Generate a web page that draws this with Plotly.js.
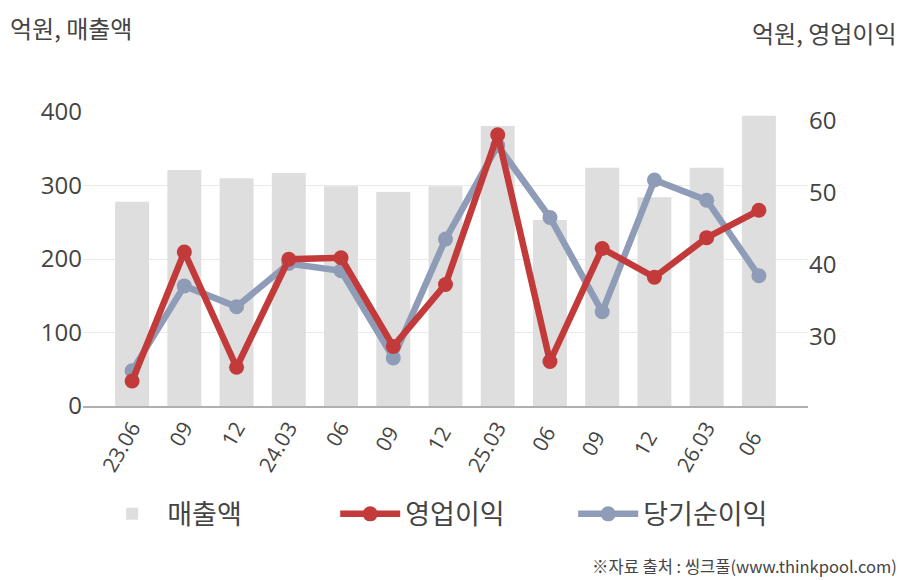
<!DOCTYPE html>
<html>
<head>
<meta charset="utf-8">
<script src="https://cdn.plot.ly/plotly-3.0.1.min.js"></script>
<style>
  html, body { margin: 0; padding: 0; background: #fff; }
  #chart { width: 908px; height: 580px; }
</style>
</head>
<body>
<div id="chart"></div>
<script>
const periods = ["23.06", "09", "12", "24.03", "06", "09 ", "12 ", "25.03", "06 ", "09  ", "12  ", "26.03", "06  "];
const sales = [278, 321, 310, 317, 299, 291, 299, 381, 253, 324, 284, 324, 395];
const opProfit = [23.9, 41.8, 25.8, 40.8, 41.0, 28.7, 37.3, 58.1, 26.6, 42.3, 38.3, 43.8, 47.6];
const netProfit = [25.3, 37.1, 34.2, 40.2, 39.2, 27.1, 43.6, 56.6, 46.6, 33.5, 51.8, 49.0, 38.5];

const textColor = "#444444";
const krFont = "Noto Sans CJK KR, Noto Sans, sans-serif";
const numFont = "Open Sans, Noto Sans, sans-serif";

// gray line is drawn before the red one so red stays on top
const traces = [
  {
    x: periods,
    y: sales,
    name: "매출액",
    type: "bar",
    width: 0.65,
    marker: { color: "#dedede" },
    legendrank: 1,
    yaxis: "y"
  },
  {
    x: periods,
    y: netProfit,
    name: "당기순이익",
    type: "scatter",
    mode: "lines+markers",
    line: { color: "#8f9cb8", width: 6.5 },
    marker: { color: "#8f9cb8", size: 15 },
    legendrank: 3,
    yaxis: "y2"
  },
  {
    x: periods,
    y: opProfit,
    name: "영업이익",
    type: "scatter",
    mode: "lines+markers",
    line: { color: "#c23a3a", width: 6.5 },
    marker: { color: "#c23a3a", size: 15 },
    legendrank: 2,
    yaxis: "y2"
  }
];

const layout = {
  width: 908,
  height: 580,
  margin: { l: 83, r: 100, t: 112, b: 174 },
  paper_bgcolor: "#ffffff",
  plot_bgcolor: "#ffffff",
  showlegend: true,
  legend: {
    orientation: "h",
    x: 0.512, xanchor: "center",
    y: -0.285, yanchor: "top",
    font: { family: krFont, size: 27, color: textColor },
    itemwidth: 60,
    entrywidth: 163
  },
  xaxis: {
    type: "category",
    range: [-0.94, 12.94],
    showgrid: false,
    showline: true,
    linecolor: "#b0b0b0",
    linewidth: 1.5,
    ticks: "",
    tickangle: -60,
    tickfont: { family: numFont, size: 21, color: textColor },
    fixedrange: true
  },
  yaxis: {
    range: [0, 400],
    dtick: 100,
    showgrid: true,
    gridcolor: "#e9e9e9",
    gridwidth: 1,
    zeroline: false,
    showline: false,
    ticks: "",
    tickfont: { family: numFont, size: 24, color: textColor }
  },
  yaxis2: {
    overlaying: "y",
    side: "right",
    range: [20.42, 61.25],
    tickvals: [30, 40, 50, 60],
    showgrid: false,
    zeroline: false,
    showline: false,
    ticks: "",
    tickfont: { family: numFont, size: 24, color: textColor }
  },
  annotations: [
    {
      text: "억원, 매출액",
      xref: "paper", yref: "paper",
      x: -0.103, y: 1.286, xanchor: "left", yanchor: "middle",
      showarrow: false,
      font: { family: krFont, size: 24, color: textColor }
    },
    {
      text: "억원, 영업이익",
      xref: "paper", yref: "paper",
      x: 1.125, y: 1.272, xanchor: "right", yanchor: "middle",
      showarrow: false,
      font: { family: krFont, size: 24, color: textColor }
    },
    {
      text: "※자료 출처 : 씽크풀(www.thinkpool.com)",
      xref: "paper", yref: "paper",
      x: 1.125, y: -0.545, xanchor: "right", yanchor: "middle",
      showarrow: false,
      font: { family: krFont, size: 16.5, color: textColor }
    }
  ]
};

Plotly.newPlot("chart", traces, layout, { displayModeBar: false, staticPlot: true });
</script>
</body>
</html>
